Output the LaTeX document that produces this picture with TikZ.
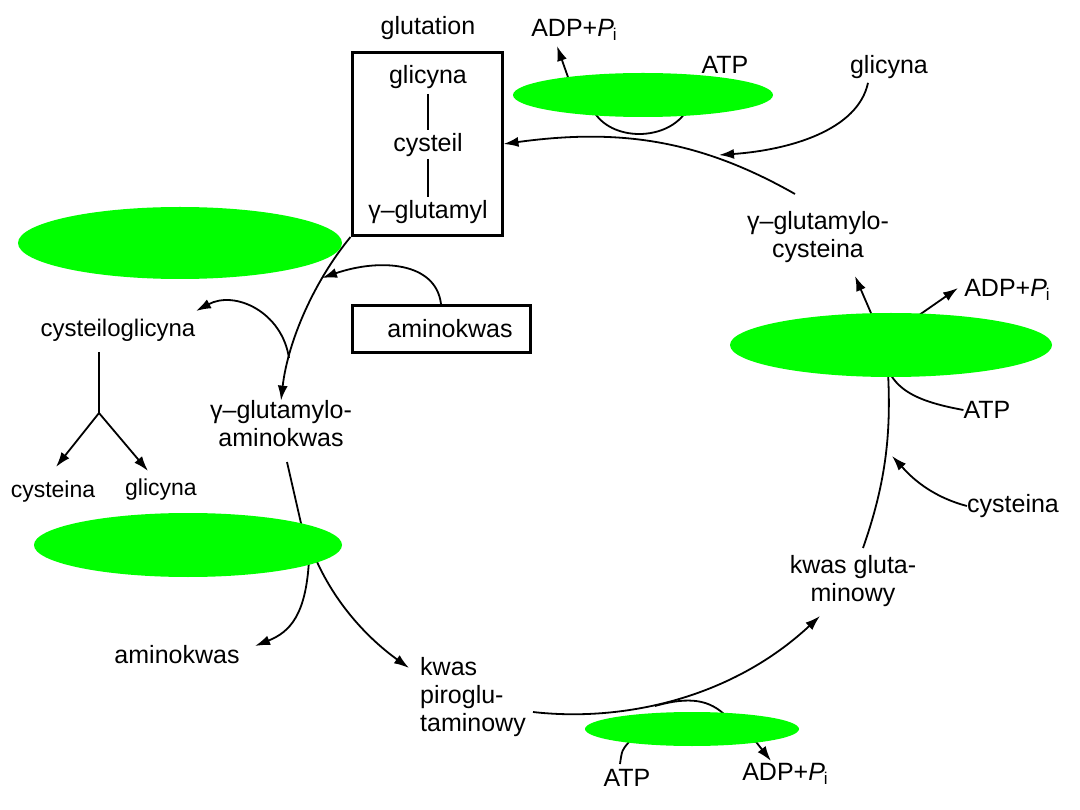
\documentclass[tikz,border=0pt]{standalone}
\usepackage{fontspec}
\setmainfont{Liberation Sans}
\usetikzlibrary{arrows.meta,shapes.geometric}
\definecolor{enz}{RGB}{0,255,0}
\newcommand{\adpp}{ADP+\textit{P}\kern-1pt\raisebox{-0.35ex}{\fontsize{17}{17}\selectfont i}}
\begin{document}
\begin{tikzpicture}[x=1pt,y=-1pt,
  lbl/.style={inner sep=0pt, font=\fontsize{25}{28}\selectfont},
  small/.style={inner sep=0pt, font=\fontsize{23}{26}\selectfont},
  enzyme/.style={ellipse, fill=enz, draw=none, inner sep=0pt},
  con/.style={line width=1.8pt},
  arr/.style={con, -{Latex[length=15pt,width=10pt]}},
  frame/.style={draw, line width=3pt, inner sep=0pt}
  ]
\useasboundingbox (0,0) rectangle (1080,810);

% ---------- labels ----------
\node[lbl] (glut) at (428,28) {glutation};
\node[frame, minimum width=150pt, minimum height=183pt] (box) at (427,144) {};
\node[lbl] (gly1) at (428,77) {glicyna};
\node[lbl] (cys1) at (428,145) {cysteil};
\node[lbl] (glu1) at (428,212) {γ–glutamyl};

\node[lbl] (adp1) at (574,30) {\adpp};
\node[lbl] (atp1) at (725,65) {ATP};
\node[lbl] (gly2) at (889,67) {glicyna};
\node[lbl, align=center] (gcys) at (818,237) {γ–glutamylo-\\cysteina};
\node[lbl] (adp2) at (1007,290) {\adpp};
\node[lbl] (atp2) at (987,410) {ATP};
\node[lbl] (cys2) at (1013,506) {cysteina};
\node[lbl, align=center] (kglu) at (853,581) {kwas gluta-\\minowy};
\node[lbl] (atp3) at (627,778) {ATP};
\node[lbl] (adp3) at (785,774) {\adpp};
\node[lbl, align=left, anchor=west] (kpir) at (420,697) {kwas\\piroglu-\\taminowy};
\node[lbl] (amino3) at (177,655) {aminokwas};
\node[lbl, align=center] (gamino) at (281,424) {γ–glutamylo-\\aminokwas};
\node[small, font=\fontsize{24}{26}\selectfont] (cysgly) at (118,330) {cysteiloglicyna};
\node[small] (cys3) at (53,492) {cysteina};
\node[small] (gly3) at (161,490) {glicyna};
\node[frame, minimum width=178pt, minimum height=47pt] (aabox) at (441,329) {};
\node[lbl] (aa) at (450,329) {aminokwas};

% ---------- coordinates ----------
\coordinate (l1a) at (428,94);
\coordinate (l1b) at (428,130);
\coordinate (l2a) at (428,159);
\coordinate (l2b) at (428,197);
\coordinate (gcysTop) at (795,194);
\coordinate (join1) at (719,155);
\coordinate (h1a) at (593,110);
\coordinate (h1b) at (687,110);
\coordinate (e1adp) at (569,80);
\coordinate (adp1tip) at (557,46);
\coordinate (join2) at (322,278);
\coordinate (br1) at (289,358);
\coordinate (cysglyTip) at (196,311);
\coordinate (cysglyB) at (99,352);
\coordinate (split) at (99,413);
\coordinate (cys3tip) at (56,467);
\coordinate (gly3tip) at (148,471);
\coordinate (gaminoB) at (287,462);
\coordinate (e3in) at (303,532);
\coordinate (e3a) at (309,560);
\coordinate (e3b) at (314,555);
\coordinate (amino3tip) at (255,646);
\coordinate (kpirtip) at (409,668);
\coordinate (kpirR) at (533,712);
\coordinate (kglutip) at (820,616);
\coordinate (h3a) at (655,706);
\coordinate (h3b) at (726,716);
\coordinate (e5atp) at (629,742);
\coordinate (atp3top) at (620,764);
\coordinate (e5adp) at (753,738);
\coordinate (adp3tip) at (771,761);
\coordinate (kgluTop) at (863,548);
\coordinate (e4bot) at (888,372);
\coordinate (join4) at (892,456);
\coordinate (e4atp) at (889,372);
\coordinate (e4t1) at (874,320);
\coordinate (gcystip) at (855,276);
\coordinate (e4t2) at (912,320);
\coordinate (adp2tip) at (958,288);

% ---------- connectors ----------
\draw[con] (l1a) -- (l1b);
\draw[con] (l2a) -- (l2b);

\draw[arr] (gcysTop) .. controls (700,140) and (620,128) .. (box.east);
\draw[arr] ([xshift=-21pt,yshift=-4pt]gly2.south) .. controls (858,130) and (790,150) .. (join1);
\draw[con] (h1a) .. controls (610,142) and (668,142) .. (h1b);
\draw[arr] (e1adp) -- (adp1tip);

\draw[arr] (box.south west) .. controls (315,280) and (288,340) .. (gamino.north);
\draw[arr] (aabox.north) .. controls (436,262) and (380,258) .. (join2);
\draw[arr] (br1) .. controls (282,312) and (235,290) .. (cysglyTip);
\draw[con] (cysglyB) -- (split);
\draw[arr] (split) -- (cys3tip);
\draw[arr] (split) -- (gly3tip);

\draw[con] (gaminoB) -- (e3in);
\draw[arr] (e3a) .. controls (306,615) and (290,632) .. (amino3tip);
\draw[arr] (e3b) .. controls (335,605) and (370,640) .. (kpirtip);

\draw[arr] (kpirR) .. controls (620,722) and (730,700) .. (kglutip);
\draw[con] (h3a) .. controls (690,696) and (710,700) .. (h3b);
\draw[con] (e5atp) .. controls (622,750) .. (atp3top);
\draw[arr] (e5adp) -- (adp3tip);

\draw[con] (kgluTop) .. controls (887,480) and (891,430) .. (e4bot);
\draw[arr] (cys2.west) .. controls (925,495) and (905,470) .. (join4);
\draw[con] (atp2.west) .. controls (920,402) and (900,392) .. (e4atp);
\draw[arr] (e4t1) -- (gcystip);
\draw[arr] (e4t2) -- (adp2tip);

% ---------- enzymes (green ellipses) ----------
\node[enzyme, minimum width=260pt, minimum height=44pt] (e1) at (643,95) {};
\node[enzyme, minimum width=324pt, minimum height=72pt] (e2) at (180,243) {};
\node[enzyme, minimum width=308pt, minimum height=64pt] (e3) at (188,545) {};
\node[enzyme, minimum width=322pt, minimum height=64pt] (e4) at (891,345) {};
\node[enzyme, minimum width=214pt, minimum height=34pt] (e5) at (692,729) {};
\end{tikzpicture}
\end{document}
